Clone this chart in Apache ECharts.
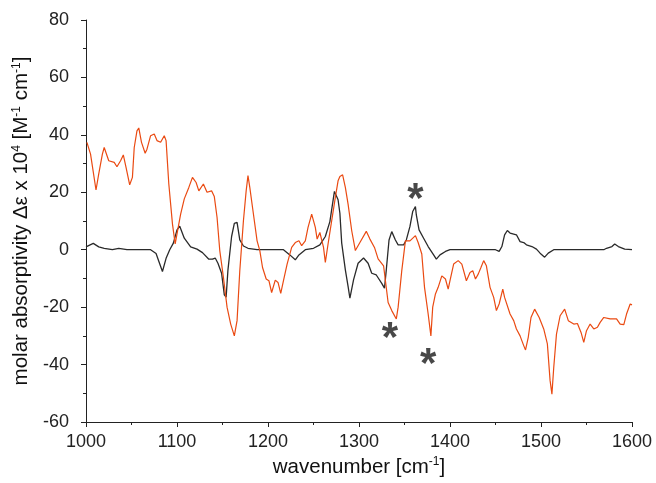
<!DOCTYPE html>
<html>
<head>
<meta charset="utf-8">
<script src="https://cdn.jsdelivr.net/npm/echarts@6/dist/echarts.min.js"></script>
<style>
  html, body { margin: 0; padding: 0; background: #fff; }
  #chart { width: 656px; height: 483px; }
</style>
</head>
<body>
<div id="chart"></div>
<script>
// orange spectrum
const orangeX = [1001,1005,1011,1014,1018,1020,1025,1031,1034,1038,1041,1044,1048,1051,1053,1056,1058,1061,1065,1067,1071,1075,1078,1082,1086,1088,1091,1095,1098,1100,1104,1108,1113,1117,1121,1124,1129,1133,1138,1141,1144,1147,1151,1155,1159,1163,1166,1169,1173,1176,1178,1180,1183,1188,1191,1194,1198,1201,1204,1208,1211,1214,1217,1221,1226,1230,1234,1237,1241,1244,1248,1252,1254,1257,1261,1263,1266,1270,1274,1277,1279,1282,1285,1288,1292,1296,1301,1308,1312,1317,1321,1327,1329,1332,1336,1341,1343,1347,1351,1356,1362,1365,1369,1372,1376,1379,1381,1384,1387,1391,1395,1398,1400,1404,1409,1413,1415,1418,1422,1425,1428,1431,1434,1437,1440,1444,1448,1451,1454,1458,1460,1466,1470,1473,1477,1481,1483,1486,1489,1493,1498,1503,1507,1510,1512,1514,1517,1521,1526,1530,1536,1540,1544,1547,1550,1554,1558,1562,1565,1569,1576,1583,1587,1591,1594,1598,1600]
const orangeY = [37.4,33.3,20.8,26.4,33.3,35.6,31,30.4,28.9,31,33,28.7,22.6,25.2,35.6,41.4,42.4,37.4,33.6,35,39.7,40.3,38,37.4,39.7,38,22.9,9,2,2.5,12.4,17.7,21.7,25.2,23.4,20.5,22.9,20,20.5,18.5,11.3,-0.3,-9.6,-20,-25.9,-30,-24.7,-7.3,10.1,20.5,25.8,21.7,14.7,3.1,-0.3,-6.2,-10.2,-10.8,-14.9,-10.6,-11.4,-15.2,-10.8,-5,0.8,2.5,3.1,1.4,3.1,7.8,12.4,7.8,3.7,6,0.8,-4.4,2,10.1,18.2,24,25.5,26.1,21.7,15.9,6.6,-0.3,2.5,6.4,3.7,0.8,-3.2,-5.6,-6.2,-18.4,-21.2,-24.1,-20,-7.3,3.1,3.1,4.9,2.5,-1.5,-13.1,-22.4,-30,-20,-15.4,-13.1,-9.1,-10.2,-13.7,-10.8,-5,-3.8,-5,-5.5,-10.8,-7.9,-7.3,-10.2,-8.5,-6.2,-3.8,-5.6,-13.1,-16.6,-21.2,-18.9,-13.7,-16.6,-22.4,-24.7,-27.6,-30,-33.4,-34.9,-30.5,-23.6,-20.7,-23.6,-27.6,-32.8,-45.6,-50.3,-41,-29.4,-23,-20.7,-24.7,-25.9,-25.7,-28.8,-32.3,-28.2,-25.9,-27.6,-27,-25.3,-23.6,-24.1,-24.1,-25.9,-26.1,-22.4,-18.9,-19.2]

// black spectrum
const blackX = [1000,1008,1014,1020,1029,1036,1045,1071,1077,1080,1084,1088,1092,1096,1100,1103,1108,1115,1122,1128,1135,1139,1142,1145,1149,1152,1154,1156,1160,1163,1166,1169,1173,1178,1188,1217,1224,1230,1234,1241,1250,1257,1263,1268,1273,1275,1277,1279,1281,1285,1288,1290,1294,1299,1305,1310,1314,1319,1325,1328,1330,1333,1336,1340,1343,1349,1352,1356,1359,1362,1363,1366,1371,1376,1382,1385,1389,1395,1400,1450,1454,1457,1460,1463,1466,1473,1477,1481,1484,1490,1495,1499,1504,1508,1514,1569,1572,1578,1581,1585,1592,1600]
const blackY = [1,2.2,1,0.5,0,0.5,0,0,-1.3,-4,-7.6,-3,0,2.3,6.9,8.2,4,1,0.2,-1,-3.3,-3.3,-2.9,-4.7,-8.2,-15.7,-16.5,-7,4.6,9.2,9.5,3.4,1.3,0.5,0,0,-1.8,-3.5,-1.8,0,0.5,1.7,4.6,9.8,20.3,20.8,17.4,12.7,2.3,-7,-12.8,-16.9,-10.5,-4.7,-2.9,-4.7,-8.2,-8.8,-11.7,-13.4,-7,3.4,6.3,3.4,1.7,1.7,3.4,8.1,13.3,15,12.1,6.9,4,1.1,-1.8,-3.3,-1.8,-0.6,0,0,-0.6,1.1,5.2,6.7,5.8,5.2,2.8,2.5,1.7,1.1,0.2,-1.2,-2.6,-1.2,0,0,0.5,1.1,2,1.1,0.2,0]

// asterisk positions
const starX = [1362, 1334, 1376]
const starY = [20, -28.5, -37.5]

const xTicks = { min: 1000, max: 1600, interval: 100 }
const yTicks = { min: -60, max: 80, interval: 20 }

function zip(xs, ys) {
  return xs.map((x, i) => [x, ys[i]])
}

const chart = echarts.init(document.getElementById('chart'), null, { renderer: 'canvas' })
const font = 'Liberation Sans, Arial, sans-serif'
const axisColor = '#222'
const supStyle = { fontSize: 12, verticalAlign: 'top', padding: [0, 0, 10, 0], fontFamily: font, color: '#111' }

chart.setOption({
  animation: false,
  grid: { left: 86, right: 24, top: 20, bottom: 61, containLabel: false },
  xAxis: {
    type: 'value',
    min: xTicks.min,
    max: xTicks.max,
    interval: xTicks.interval,
    name: 'wavenumber [cm{sup|-1}]',
    nameLocation: 'middle',
    nameGap: 33,
    nameTextStyle: { fontFamily: font, fontSize: 20.5, color: '#111', rich: { sup: supStyle } },
    axisLine: { onZero: false, lineStyle: { color: axisColor, width: 1 } },
    axisTick: { show: true, inside: false, length: 5, lineStyle: { color: axisColor } },
    minorTick: { show: true, splitNumber: 2, length: 3, lineStyle: { color: axisColor } },
    axisLabel: { fontFamily: font, fontSize: 18, color: '#222', margin: 11, formatter: v => String(v) },
    splitLine: { show: false }
  },
  yAxis: {
    type: 'value',
    min: yTicks.min,
    max: yTicks.max,
    interval: yTicks.interval,
    name: 'molar absorptivity Δε x 10{sup|4} [M{sup|-1} cm{sup|-1}]',
    nameLocation: 'middle',
    nameRotate: 90,
    nameGap: 48,
    nameTextStyle: { fontFamily: font, fontSize: 20.5, color: '#111', rich: { sup: supStyle } },
    axisLine: { show: true, lineStyle: { color: axisColor, width: 1 } },
    axisTick: { show: true, inside: false, length: 5, lineStyle: { color: axisColor } },
    minorTick: { show: true, splitNumber: 2, length: 3, lineStyle: { color: axisColor } },
    axisLabel: { fontFamily: font, fontSize: 18, color: '#222', margin: 17 },
    splitLine: { show: false }
  },
  series: [
    {
      type: 'line',
      data: zip(blackX, blackY),
      symbol: 'none',
      lineStyle: { color: '#2a2a2a', width: 1.3 },
      z: 2
    },
    {
      type: 'line',
      data: zip(orangeX, orangeY),
      symbol: 'none',
      lineStyle: { color: '#ea4a12', width: 1.2 },
      z: 3
    },
    {
      type: 'scatter',
      data: zip(starX, starY),
      symbolSize: 1,
      itemStyle: { color: 'rgba(0,0,0,0)' },
      label: {
        show: true,
        position: 'inside',
        formatter: '*',
        fontFamily: font,
        fontSize: 42,
        fontWeight: 'bold',
        color: '#1a1a1a',
        offset: [0, 8]
      },
      z: 4
    }
  ]
})
</script>
</body>
</html>
